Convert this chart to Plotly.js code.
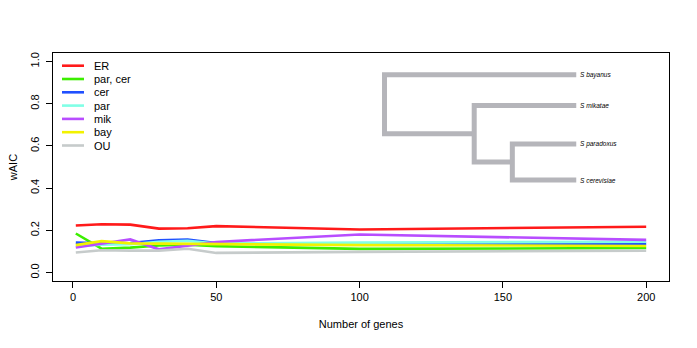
<!DOCTYPE html>
<html>
<head>
<meta charset="utf-8">
<script src="https://cdn.plot.ly/plotly-3.0.1.min.js"></script>
<style>
  html, body { margin: 0; padding: 0; background: #fff; }
  #chart { width: 697px; height: 348px; }
</style>
</head>
<body>
<div id="chart"></div>
<script>
// number of genes on x
const genes = [1, 10, 20, 30, 40, 50, 100, 200];

// wAIC per model
const ER     = [0.223, 0.229, 0.227, 0.208, 0.210, 0.220, 0.204, 0.217];
const parCer = [0.185, 0.113, 0.118, 0.128, 0.132, 0.125, 0.112, 0.116];
const cer    = [0.142, 0.138, 0.140, 0.153, 0.156, 0.140, 0.136, 0.136];
const par    = [0.125, 0.132, 0.134, 0.146, 0.150, 0.138, 0.142, 0.146];
const mik    = [0.119, 0.138, 0.157, 0.110, 0.128, 0.145, 0.180, 0.155];
const bay    = [0.130, 0.149, 0.138, 0.137, 0.135, 0.134, 0.130, 0.126];
const OU     = [0.095, 0.106, 0.104, 0.104, 0.113, 0.093, 0.098, 0.103];

const seriesNames = ["ER", "par, cer", "cer", "par", "mik", "bay", "OU"];
const seriesVals = [ER, parCer, cer, par, mik, bay, OU];
const seriesCols = ["#ff1a1a", "#3cee00", "#2050ff", "#80ffe6", "#b84dff", "#f2f200", "#c6cbcb"];

// species tree drawn inside the plot (data coords)
const leaves = ["S bayanus", "S mikatae", "S paradoxus", "S cerevisiae"];
const leafY = [0.937, 0.791, 0.609, 0.438];
const tipX = 175.6;
const nodeX = [108.7, 140, 153.3]; // root, (mik,(par,cer)), (par,cer)

const FONT = "Liberation Sans, Arial, Helvetica, sans-serif";

const data = [];
for (let i = 0; i < seriesNames.length; i++) {
    data.push({
        x: genes, y: seriesVals[i], name: seriesNames[i],
        mode: 'lines', line: {color: seriesCols[i], width: 2.6},
        hoverinfo: 'skip'
    });
}

// tree segments
const yPC = (leafY[2] + leafY[3]) / 2;
const yMik = (leafY[1] + yPC) / 2;
const treeX = [tipX, nodeX[0], nodeX[0], nodeX[1], null,
               tipX, nodeX[1], nodeX[1], nodeX[2], null,
               tipX, nodeX[2], nodeX[2], tipX];
const treeY = [leafY[0], leafY[0], yMik, yMik, null,
               leafY[1], leafY[1], yPC, yPC, null,
               leafY[2], leafY[2], leafY[3], leafY[3]];
data.push({
    x: treeX, y: treeY, mode: 'lines', showlegend: false, hoverinfo: 'skip',
    line: {color: '#b5b5ba', width: 5}
});

// plot box in pixels: 53..669 x 53..281
const W = 616, H = 228;
const shapes = [];
const annotations = [];

// legend, R style without a box
for (let i = 0; i < seriesNames.length; i++) {
    const py = 65.7 + i * 13.3;
    const yp = (281 - py) / H;
    shapes.push({
        type: 'line', xref: 'paper', yref: 'paper',
        x0: (62 - 53) / W, x1: (84 - 53) / W, y0: yp, y1: yp,
        line: {color: seriesCols[i], width: 2.6}
    });
    annotations.push({
        xref: 'paper', yref: 'paper', x: (92 - 53) / W, y: yp,
        xanchor: 'left', yanchor: 'middle', showarrow: false,
        text: seriesNames[i], font: {family: FONT, size: 11, color: '#000'}
    });
}

for (let i = 0; i < leaves.length; i++) {
    annotations.push({
        x: tipX, y: leafY[i], xref: 'x', yref: 'y',
        xanchor: 'left', yanchor: 'middle', xshift: 2, showarrow: false,
        text: '<i>' + leaves[i] + '</i>', font: {family: FONT, size: 6.5, color: '#000'}
    });
}

const layout = {
    width: 697, height: 348,
    margin: {l: 53, r: 28, t: 53, b: 67},
    paper_bgcolor: '#fff', plot_bgcolor: '#fff',
    showlegend: false,
    font: {family: FONT, size: 11, color: '#000'},
    xaxis: {
        range: [-6.96, 207.96], tickvals: [0, 50, 100, 150, 200],
        ticks: 'outside', ticklen: 6, tickcolor: '#000', tickwidth: 1,
        showline: true, mirror: true, linecolor: '#000', linewidth: 1,
        showgrid: false, zeroline: false,
        tickfont: {family: FONT, size: 11},
        title: {text: 'Number of genes', font: {family: FONT, size: 11}, standoff: 18}
    },
    yaxis: {
        range: [-0.04, 1.04], tickvals: [0, 0.2, 0.4, 0.6, 0.8, 1.0],
        ticktext: ['0.0', '0.2', '0.4', '0.6', '0.8', '1.0'],
        tickangle: -90, ticklabelstandoff: 3,
        ticks: 'outside', ticklen: 6, tickcolor: '#000', tickwidth: 1,
        showline: true, mirror: true, linecolor: '#000', linewidth: 1,
        showgrid: false, zeroline: false,
        tickfont: {family: FONT, size: 11},
        title: {text: 'wAIC', font: {family: FONT, size: 11}, standoff: 8}
    },
    shapes: shapes,
    annotations: annotations
};

Plotly.newPlot('chart', data, layout, {displayModeBar: false, staticPlot: true});
</script>
</body>
</html>
